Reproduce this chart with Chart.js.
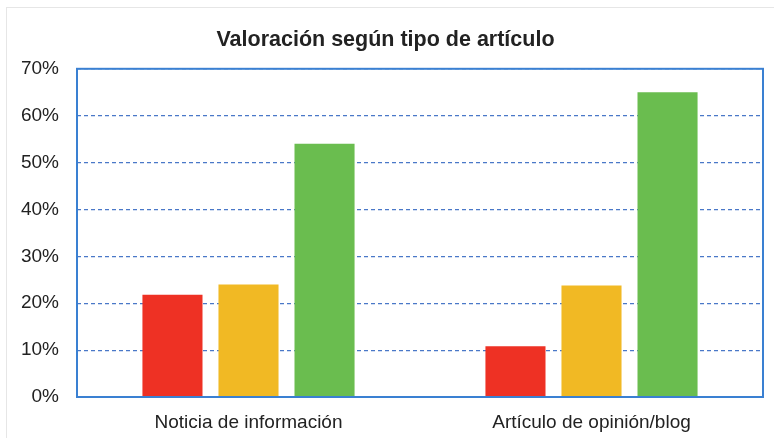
<!DOCTYPE html>
<html lang="es">
<head>
    <meta charset="UTF-8">
    <title>Valoración según tipo de artículo</title>
    <style>
        html, body {
            margin: 0;
            padding: 0;
            background: #fff;
            overflow: hidden;
        }
        .card {
            position: absolute;
            left: 6px;
            top: 7px;
            width: 820px;
            height: 480px;
            border: 1px solid #e6e6e6;
        }
        .chart-box {
            position: absolute;
            left: 0;
            top: 0;
            width: 774px;
            height: 438px;
        }
    </style>
</head>
<body>
    <div class="card"></div>
    <div class="chart-box">
        <canvas id="ratingChart" width="774" height="438"></canvas>
    </div>

<script src="https://cdn.jsdelivr.net/npm/chart.js"></script>
<script>
// values (percent)
const categories = ['Noticia de información', 'Artículo de opinión/blog'];
const redValues = [21.8, 10.8];
const yellowValues = [24.0, 23.8];
const greenValues = [54.0, 65.0];
const yTicks = [0, 10, 20, 30, 40, 50, 60, 70];

const FONT = "'Liberation Sans', Arial, sans-serif";

// solid blue frame around the plot area
const frame = {
    id: 'frame',
    afterDatasetsDraw(chart) {
        const a = chart.chartArea;
        const ctx = chart.ctx;
        ctx.save();
        ctx.strokeStyle = '#3a80d2';
        ctx.lineWidth = 2;
        ctx.strokeRect(a.left, a.top, a.right - a.left, a.bottom - a.top);
        ctx.restore();
    }
};

new Chart(document.getElementById('ratingChart'), {
    type: 'bar',
    data: {
        labels: categories,
        datasets: [
            { label: 'Rojo', data: redValues, backgroundColor: '#ee3124' },
            { label: 'Amarillo', data: yellowValues, backgroundColor: '#f1b924' },
            { label: 'Verde', data: greenValues, backgroundColor: '#6abd4f' }
        ]
    },
    options: {
        responsive: false,
        animation: false,
        events: [],
        layout: { padding: { left: 8, right: 11, top: 0, bottom: 0 } },
        datasets: {
            bar: { categoryPercentage: 0.665, barPercentage: 0.79 }
        },
        plugins: {
            legend: { display: false },
            tooltip: { enabled: false },
            title: {
                display: true,
                text: 'Valoración según tipo de artículo',
                color: '#222',
                font: { family: FONT, size: 21.5, weight: 'bold', lineHeight: 1.2 },
                padding: { top: 27, bottom: 16 }
            }
        },
        scales: {
            x: {
                grid: { display: false, drawTicks: false },
                border: { display: false },
                ticks: {
                    color: '#222',
                    font: { family: FONT, size: 19 },
                    padding: 14
                },
                afterFit(scale) { scale.height = 41; }
            },
            y: {
                min: 0,
                max: 70,
                afterBuildTicks(scale) {
                    scale.ticks = yTicks.map(v => ({ value: v }));
                },
                grid: {
                    color: '#4a78c8',
                    lineWidth: 1.2,
                    drawTicks: false
                },
                border: { display: false, dash: [4, 3] },
                ticks: {
                    color: '#222',
                    font: { family: FONT, size: 19 },
                    padding: 18,
                    callback: v => v + '%'
                },
                afterFit(scale) { scale.width = 69; }
            }
        }
    },
    plugins: [frame]
});
</script>
</body>
</html>
